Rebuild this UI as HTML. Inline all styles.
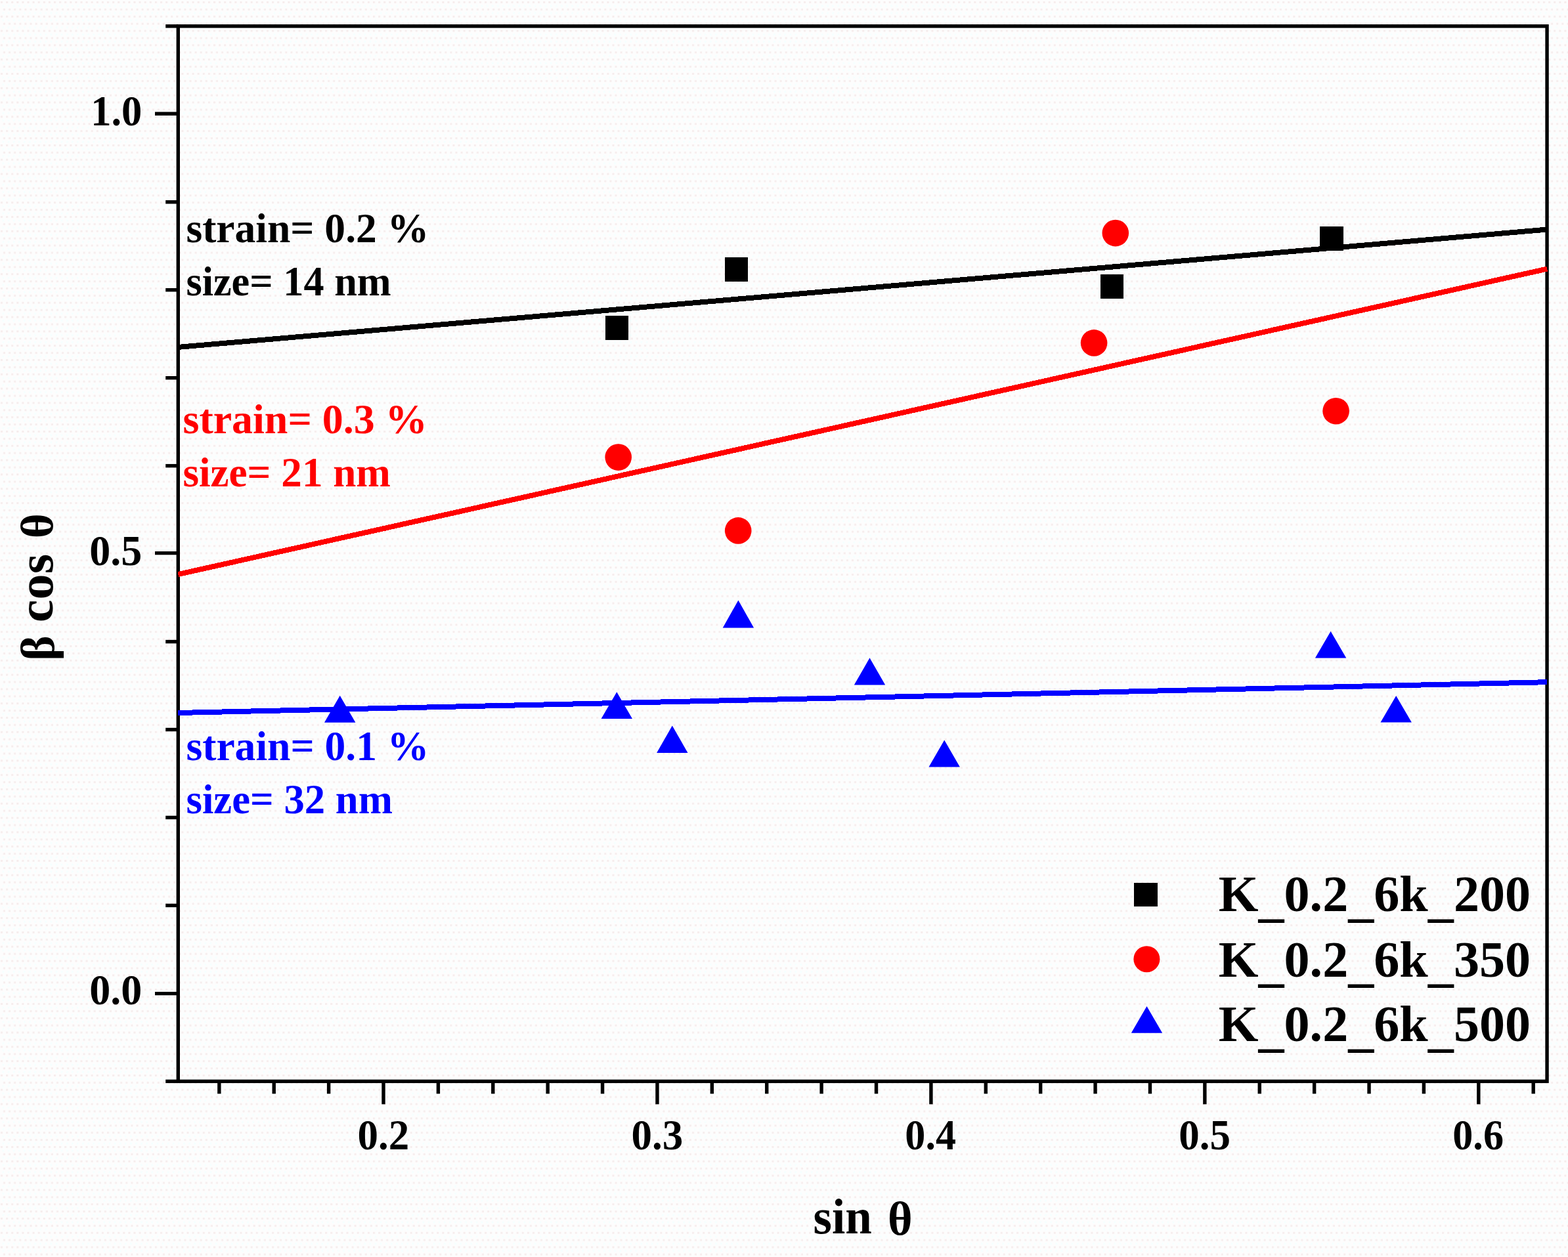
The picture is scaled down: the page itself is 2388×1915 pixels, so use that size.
<!DOCTYPE html>
<html lang="en"><head><meta charset="utf-8"><title>Williamson-Hall plot</title>
<style>
html,body{margin:0;padding:0;background:#fdfdfd;}
body{width:2388px;height:1915px;overflow:hidden;}
svg{display:block;font-family:'Liberation Serif', 'Times New Roman', serif;font-weight:bold;}
</style></head><body>
<svg width="2388" height="1915" viewBox="0 0 2388 1915">
<defs><pattern id="dither" width="8.1" height="21.8" patternUnits="userSpaceOnUse">
<rect x="1" y="2" width="3" height="3" fill="#f6eded"/><rect x="5" y="13" width="3" height="3" fill="#f6eded"/>
<rect x="3.5" y="7.5" width="3" height="3" fill="#f5ffff"/><rect x="3.5" y="18.4" width="3" height="3" fill="#f5ffff"/>
</pattern></defs>
<rect width="2388" height="1915" fill="#fdfdfd"/>
<rect width="2388" height="1915" fill="url(#dither)"/>

<g stroke="#000" stroke-width="5.4" fill="none" stroke-linecap="butt">
<rect x="271.3" y="39.85" width="2084.75" height="1607.50"/>
<line x1="252.2" y1="1647.35" x2="271.3" y2="1647.35"/>
<line x1="236" y1="1513.60" x2="271.3" y2="1513.60"/>
<line x1="252.2" y1="1379.43" x2="271.3" y2="1379.43"/>
<line x1="252.2" y1="1245.47" x2="271.3" y2="1245.47"/>
<line x1="252.2" y1="1111.52" x2="271.3" y2="1111.52"/>
<line x1="252.2" y1="977.56" x2="271.3" y2="977.56"/>
<line x1="236" y1="842.60" x2="271.3" y2="842.60"/>
<line x1="252.2" y1="709.64" x2="271.3" y2="709.64"/>
<line x1="252.2" y1="575.68" x2="271.3" y2="575.68"/>
<line x1="252.2" y1="441.72" x2="271.3" y2="441.72"/>
<line x1="252.2" y1="307.77" x2="271.3" y2="307.77"/>
<line x1="236" y1="173.30" x2="271.3" y2="173.30"/>
<line x1="252.2" y1="39.85" x2="271.3" y2="39.85"/>
<line x1="333.84" y1="1647.35" x2="333.84" y2="1666.3"/>
<line x1="417.23" y1="1647.35" x2="417.23" y2="1666.3"/>
<line x1="500.62" y1="1647.35" x2="500.62" y2="1666.3"/>
<line x1="584.01" y1="1647.35" x2="584.01" y2="1682.3"/>
<line x1="667.40" y1="1647.35" x2="667.40" y2="1666.3"/>
<line x1="750.79" y1="1647.35" x2="750.79" y2="1666.3"/>
<line x1="834.18" y1="1647.35" x2="834.18" y2="1666.3"/>
<line x1="917.57" y1="1647.35" x2="917.57" y2="1666.3"/>
<line x1="1000.96" y1="1647.35" x2="1000.96" y2="1682.3"/>
<line x1="1084.35" y1="1647.35" x2="1084.35" y2="1666.3"/>
<line x1="1167.74" y1="1647.35" x2="1167.74" y2="1666.3"/>
<line x1="1251.13" y1="1647.35" x2="1251.13" y2="1666.3"/>
<line x1="1334.52" y1="1647.35" x2="1334.52" y2="1666.3"/>
<line x1="1417.91" y1="1647.35" x2="1417.91" y2="1682.3"/>
<line x1="1501.30" y1="1647.35" x2="1501.30" y2="1666.3"/>
<line x1="1584.69" y1="1647.35" x2="1584.69" y2="1666.3"/>
<line x1="1668.08" y1="1647.35" x2="1668.08" y2="1666.3"/>
<line x1="1751.47" y1="1647.35" x2="1751.47" y2="1666.3"/>
<line x1="1834.86" y1="1647.35" x2="1834.86" y2="1682.3"/>
<line x1="1918.25" y1="1647.35" x2="1918.25" y2="1666.3"/>
<line x1="2001.64" y1="1647.35" x2="2001.64" y2="1666.3"/>
<line x1="2085.03" y1="1647.35" x2="2085.03" y2="1666.3"/>
<line x1="2168.42" y1="1647.35" x2="2168.42" y2="1666.3"/>
<line x1="2251.81" y1="1647.35" x2="2251.81" y2="1682.3"/>
<line x1="2335.20" y1="1647.35" x2="2335.20" y2="1666.3"/>
</g>
<g shape-rendering="crispEdges" fill="none" stroke-linecap="butt">
<line x1="271.3" y1="528.9" x2="2356.1" y2="349.6" stroke="#000" stroke-width="8"/>
<line x1="271.3" y1="875.0" x2="2356.1" y2="409.6" stroke="#f00" stroke-width="8"/>
<line x1="271.3" y1="1086.0" x2="2356.1" y2="1039.2" stroke="#00f" stroke-width="8"/>
</g>
<g shape-rendering="crispEdges">
<rect x="921.8" y="481.2" width="35.5" height="37.0" fill="#000"/>
<rect x="1103.8" y="391.5" width="35.5" height="37.0" fill="#000"/>
<rect x="1675.7" y="417.9" width="35.5" height="37.0" fill="#000"/>
<rect x="2010.3" y="344.6" width="35.5" height="37.0" fill="#000"/>
<rect x="1727" y="1345" width="36" height="36" fill="#000"/>
</g><g>
<circle cx="941.7" cy="696.6" r="20.3" fill="#f00"/>
<circle cx="1124.2" cy="808.4" r="20.3" fill="#f00"/>
<circle cx="1666.1" cy="522.4" r="20.3" fill="#f00"/>
<circle cx="1698.8" cy="355.1" r="20.3" fill="#f00"/>
<circle cx="2034.6" cy="626.2" r="20.3" fill="#f00"/>
<polygon points="517.7,1059.7 541.4,1100.7 494.0,1100.7" fill="#00f"/>
<polygon points="939.3,1054.3 963.0,1095.0 915.6,1095.0" fill="#00f"/>
<polygon points="1023.8,1105.6 1047.5,1146.9 1000.1,1146.9" fill="#00f"/>
<polygon points="1124.4,914.5 1148.1,956.5 1100.7,956.5" fill="#00f"/>
<polygon points="1324.5,1002.3 1348.2,1043.6 1300.8,1043.6" fill="#00f"/>
<polygon points="1438.2,1127.6 1461.9,1168.6 1414.5,1168.6" fill="#00f"/>
<polygon points="2026.6,961.7 2050.3,1002.6 2002.9,1002.6" fill="#00f"/>
<polygon points="2126.2,1060.0 2149.9,1100.5 2102.5,1100.5" fill="#00f"/>
<circle cx="1746.4" cy="1461.2" r="20" fill="#f00"/>
<polygon points="1746.5,1533.0 1770.2,1573.7 1722.8,1573.7" fill="#00f"/>
</g>
<g>
<text transform="translate(283.41 369.20) scale(0.9930 1)" font-size="64" fill="#000">strain= 0.2 %</text>
<text transform="translate(283.43 450.40) scale(0.9735 1)" font-size="64" fill="#000">size= 14 nm</text>
<text transform="translate(278.50 659.50) scale(0.9995 1)" font-size="64" fill="#f00">strain= 0.3 %</text>
<text transform="translate(278.51 741.00) scale(0.9863 1)" font-size="64" fill="#f00">size= 21 nm</text>
<text transform="translate(283.51 1157.70) scale(0.9932 1)" font-size="64" fill="#00f">strain= 0.1 %</text>
<text transform="translate(283.52 1239.30) scale(0.9801 1)" font-size="64" fill="#00f">size= 32 nm</text>
<text transform="translate(1855.68 1388.30) scale(1.0019 1)" font-size="78" fill="#000" dy="0 6.5 -6.5 0 0 6.5 -6.5 0 6.5 -6.5 0 0">K_0.2_6k_200</text>
<text transform="translate(1855.68 1487.70) scale(1.0019 1)" font-size="78" fill="#000" dy="0 6.5 -6.5 0 0 6.5 -6.5 0 6.5 -6.5 0 0">K_0.2_6k_350</text>
<text transform="translate(1855.68 1586.40) scale(1.0019 1)" font-size="78" fill="#000" dy="0 6.5 -6.5 0 0 6.5 -6.5 0 6.5 -6.5 0 0">K_0.2_6k_500</text>
<text transform="translate(1238.56 1878.70) scale(0.9473 1)" font-size="77" fill="#000">sin</text>
<text transform="translate(1352.04 1880.50) scale(1.0023 1)" font-size="72" fill="#000">θ</text>
<text transform="translate(544.44 1751.00) scale(0.9691 1)" font-size="65" fill="#000">0.2</text>
<text transform="translate(961.39 1751.00) scale(0.9691 1)" font-size="65" fill="#000">0.3</text>
<text transform="translate(1378.37 1751.00) scale(0.9565 1)" font-size="65" fill="#000">0.4</text>
<text transform="translate(1795.29 1751.00) scale(0.9691 1)" font-size="65" fill="#000">0.5</text>
<text transform="translate(2212.27 1751.00) scale(0.9565 1)" font-size="65" fill="#000">0.6</text>
<text transform="translate(138.22 190.81) scale(0.9617 1)" font-size="65" fill="#000">1.0</text>
<text transform="translate(136.20 860.60) scale(0.9846 1)" font-size="65" fill="#000">0.5</text>
<text transform="translate(136.20 1529.59) scale(0.9846 1)" font-size="65" fill="#000">0.0</text>
<text transform="translate(82.00 1006.41) rotate(-90) scale(1.0143 1)" font-size="71.8" fill="#000">β</text>
<text transform="translate(80.30 948.14) rotate(-90) scale(1.0157 1)" font-size="77" fill="#000">cos</text>
<text transform="translate(80.00 820.18) rotate(-90) scale(1.0479 1)" font-size="69.5" fill="#000">θ</text>
</g>
</svg></body></html>
